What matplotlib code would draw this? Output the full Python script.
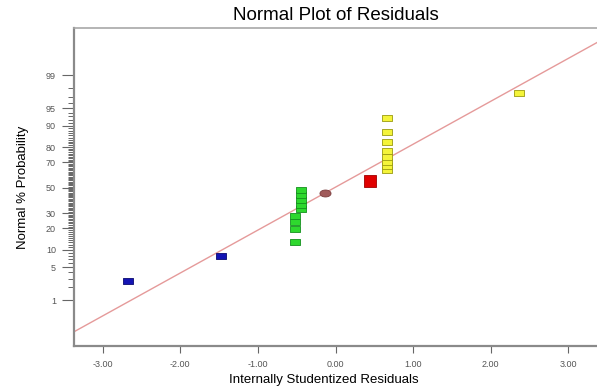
import numpy as np
import matplotlib
matplotlib.use("Agg")
import matplotlib.pyplot as plt
from matplotlib.path import Path
from statistics import NormalDist

plt.rcParams["font.family"] = ["Liberation Sans", "DejaVu Sans"]

# residuals (x) and normal % probability (y)
resid_blue = [-2.67, -1.48]
prob_blue = [2.7, 8.0]
resid_green = [-0.52, -0.52, -0.52, -0.52, -0.44, -0.44, -0.44, -0.44, -0.44]
prob_green = [13.2, 19.9, 24.1, 28.1, 33.2, 36.3, 40.2, 44.2, 48.4]
resid_brown = [-0.14]
prob_brown = [45.9]
resid_red = [0.44]
prob_red = [55.8]
resid_yellow = [0.66, 0.66, 0.66, 0.66, 0.66, 0.66, 0.66, 0.66, 2.37]
prob_yellow = [64.5, 67.5, 70.4, 73.9, 77.8, 82.9, 87.6, 92.6, 97.5]

# reference line in z units: z = intercept + slope * residual
line_slope = 0.887
line_intercept = 0.012

ytick_vals = [1, 5, 10, 20, 30, 50, 70, 80, 90, 95, 99]
xtick_vals = [-3, -2, -1, 0, 1, 2, 3]

nd = NormalDist()


def fwd(p):
    p = np.clip(np.asarray(p, dtype=float), 1e-6, 100 - 1e-6)
    return np.vectorize(lambda v: nd.inv_cdf(v / 100.0))(p)


def inv(z):
    z = np.asarray(z, dtype=float)
    return np.vectorize(lambda v: nd.cdf(v) * 100.0)(z)


rect = Path([(-1.5, -1), (1.5, -1), (1.5, 1), (-1.5, 1), (-1.5, -1)],
            [Path.MOVETO, Path.LINETO, Path.LINETO, Path.LINETO, Path.CLOSEPOLY])
t = np.linspace(0, 2 * np.pi, 40)
ellipse = Path(np.column_stack([1.6 * np.cos(t), np.sin(t)]))

fig = plt.figure(figsize=(5.97, 3.90), dpi=100)
ax = fig.add_axes([0.124, 0.113, 0.876, 0.815])
ax.set_yscale("function", functions=(fwd, inv))

xlim = (-3.37, 3.37)
ax.set_xlim(xlim)
ax.set_ylim(inv(-3.27), inv(3.30))

# reference line
lx = np.array(xlim)
ax.plot(lx, inv(line_intercept + line_slope * lx), color="#e59a9a", lw=1.0, zorder=1)

ax.plot(resid_blue, prob_blue, ls="none", marker=rect, ms=7, mfc="#1414b4", mec="#0a0a70", mew=0.6)
ax.plot(resid_green, prob_green, ls="none", marker=rect, ms=7, mfc="#2ed82e", mec="#14901e", mew=0.6)
ax.plot(resid_brown, prob_brown, ls="none", marker=ellipse, ms=8, mfc="#a05a5a", mec="#7a3c3c", mew=0.6)
ax.plot(resid_red, prob_red, ls="none", marker="s", ms=8, mfc="#e00000", mec="#a00000", mew=0.6)
ax.plot(resid_yellow, prob_yellow, ls="none", marker=rect, ms=6.5, mfc="#f4f43a", mec="#9a9a10", mew=0.6)

ax.set_yticks(ytick_vals)
ax.set_yticklabels([str(v) for v in ytick_vals])
ax.set_yticks(list(range(2, 99)), minor=True)
ax.set_yticklabels([], minor=True)
ax.set_xticks(xtick_vals)
ax.set_xticklabels(["%.2f" % v for v in xtick_vals])

ax.tick_params(axis="y", which="major", length=9, width=0.8, color="#666666",
               labelsize=6.5, labelcolor="#555555", pad=4)
ax.tick_params(axis="y", which="minor", length=4.5, width=0.7, color="#666666")
ax.tick_params(axis="x", which="major", length=5, width=0.8, color="#666666",
               labelsize=6.5, labelcolor="#555555", pad=5)

for s in ["left", "bottom"]:
    ax.spines[s].set_color("#8a8a8a")
    ax.spines[s].set_linewidth(1.6)
ax.spines["top"].set_color("#a8a8a8")
ax.spines["top"].set_linewidth(1.2)
ax.spines["right"].set_visible(False)

ax.set_title("Normal Plot of Residuals", fontsize=13.5, pad=6)
ax.set_xlabel("Internally Studentized Residuals", fontsize=9.5, labelpad=4, x=0.478)
ax.set_ylabel("Normal % Probability", fontsize=9.5, labelpad=12)

fig.savefig("out.png", dpi=100)
